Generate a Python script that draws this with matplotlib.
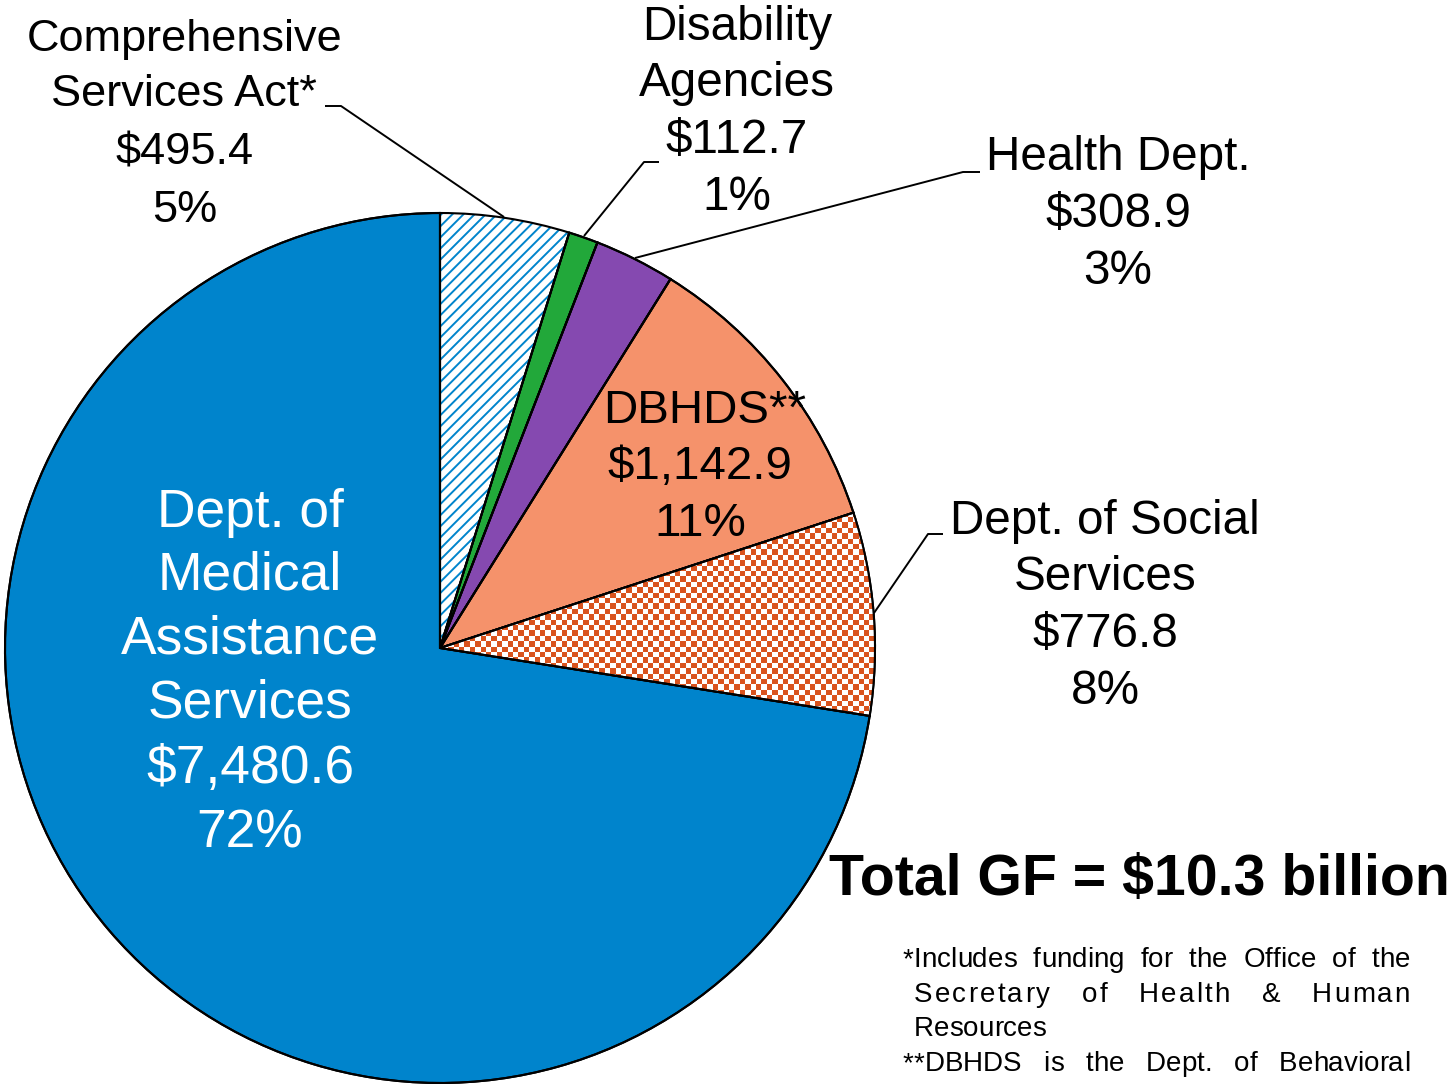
import numpy as np
import matplotlib
matplotlib.use("Agg")
import matplotlib.pyplot as plt
from matplotlib.colors import ListedColormap

plt.rcParams['font.family'] = ['Liberation Sans', 'DejaVu Sans']
plt.rcParams['hatch.linewidth'] = 1.4

# ---- data ----
categories = ["Comprehensive Services Act*", "Disability Agencies", "Health Dept.",
              "DBHDS**", "Dept. of Social Services", "Dept. of Medical Assistance Services"]
values = [495.4, 112.7, 308.9, 1142.9, 776.8, 7480.6]
percents = ["5%", "1%", "3%", "11%", "8%", "72%"]
colors = ["white", "#22A83A", "#8549B0", "#F5926B", "#D9531E", "#0084CC"]
total_label = "Total GF = $10.3 billion"
footnotes = ["*Includes funding for the Office of the",
             "Secretary of Health & Human",
             "Resources",
             "**DBHDS is the Dept. of Behavioral"]

W, H = 1452, 1084
fig = plt.figure(figsize=(W / 100, H / 100), dpi=100)
ax = fig.add_axes([0, 0, 1, 1])

DY = 3  # small vertical offset for text baseline alignment


def Y(y):
    return H - y


def fix_axes():
    ax.set_xlim(0, W)
    ax.set_ylim(0, H)
    ax.set_aspect('auto')
    ax.axis('off')


cx, cy, R = 440, 648, 435
wedges, _ = ax.pie(values, colors=colors, startangle=90, counterclock=False,
                   center=(cx, Y(cy)), radius=R,
                   wedgeprops=dict(edgecolor="black", linewidth=1.5))
fix_axes()

# CSA hatch (blue diagonal lines on white)
csa = wedges[0]
csa.set_hatch('///')
csa.set_edgecolor("#0084CC")
csa.set_linewidth(0)

# DSS checkerboard texture clipped to its wedge
dss = wedges[4]
dss.set_facecolor("white")
cell = 5.4
nx = int(W / cell) + 1
ny = int(H / cell) + 1
ii, jj = np.meshgrid(np.arange(nx), np.arange(ny))
chk = ((ii + jj) % 2).astype(float)
cmap = ListedColormap(["white", "#D9531E"])
im = ax.imshow(chk, cmap=cmap, extent=(0, nx * cell, 0, ny * cell),
               origin='lower', interpolation='nearest', zorder=1.5, aspect='auto')
im.set_clip_path(dss)

# outlines on top
ax.pie(values, startangle=90, counterclock=False, center=(cx, Y(cy)), radius=R,
       wedgeprops=dict(edgecolor="black", linewidth=1.5, fill=False, zorder=3))
fix_axes()


def put(lines, color="black", fs=32):
    for (txt, x, y) in lines:
        ax.text(x, Y(y + DY), txt, ha='center', va='center', fontsize=fs, color=color, zorder=5)


put([("Comprehensive", 185, 37), ("Services Act*", 184, 92),
     ("$" + f"{values[0]:,.1f}", 185, 150), (percents[0], 185, 207)], fs=32.5)
put([("Disability", 737, 25), ("Agencies", 737, 80),
     ("$" + f"{values[1]:,.1f}", 737, 138), (percents[1], 737, 195)], fs=34.3)
put([("Health Dept.", 1118, 155), ("$" + f"{values[2]:,.1f}", 1118, 211),
     (percents[2], 1118, 268)], fs=34.3)
put([("DBHDS**", 705, 408), ("$" + f"{values[3]:,.1f}", 700, 464),
     (percents[3], 700, 521)], fs=34.2)
put([("Dept. of Social", 1105, 518), ("Services", 1105, 574),
     ("$" + f"{values[4]:,.1f}", 1105, 632), (percents[4], 1105, 689)], fs=34.3)
put([("Dept. of", 250, 510), ("Medical", 250, 573), ("Assistance", 250, 637),
     ("Services", 250, 700), ("$" + f"{values[5]:,.1f}", 250, 766),
     (percents[5], 250, 830)], color="white", fs=38.4)

ax.text(1139, Y(877 + DY), total_label, ha='center', va='center', fontsize=41.2,
        fontweight='bold', zorder=5)

# leader lines
leaders = [[(325, 106), (341, 106), (504, 217)],
           [(659, 162), (644, 162), (584, 236)],
           [(980, 172), (963, 172), (635, 258)],
           [(943, 534), (928, 534), (874, 613)]]
for pts in leaders:
    xs = [p[0] for p in pts]
    ys = [Y(p[1]) for p in pts]
    ax.plot(xs, ys, color='black', lw=1.4, zorder=4, solid_capstyle='butt')

# justified footnote
fig.canvas.draw()
renderer = fig.canvas.get_renderer()
fn_fs = 20
specs = [(footnotes[0], 903, 1410, 960, 0.0), (footnotes[1], 914, 1410, 995, 2.2),
         (footnotes[2], 914, None, 1029, 0.0), (footnotes[3], 903, 1410, 1064, 0.0)]
for txt, x0, x1, y, ls in specs:
    words = txt.split(" ")
    word_objs = []
    word_w = []
    for w in words:
        chars = [ax.text(0, Y(y), c, ha='left', va='center', fontsize=fn_fs, zorder=5) for c in w]
        cws = [c.get_window_extent(renderer).width for c in chars]
        word_objs.append((chars, cws))
        word_w.append(sum(cws) + ls * (len(w) - 1))
    if x1 is None or len(words) == 1:
        sp = 6
    else:
        sp = (x1 - x0 - sum(word_w)) / (len(words) - 1)
    x = x0
    for (chars, cws), ww in zip(word_objs, word_w):
        cx_ = x
        for c, cw in zip(chars, cws):
            c.set_x(cx_)
            cx_ += cw + ls
        x += ww + sp

fig.savefig("out.png", dpi=100)
